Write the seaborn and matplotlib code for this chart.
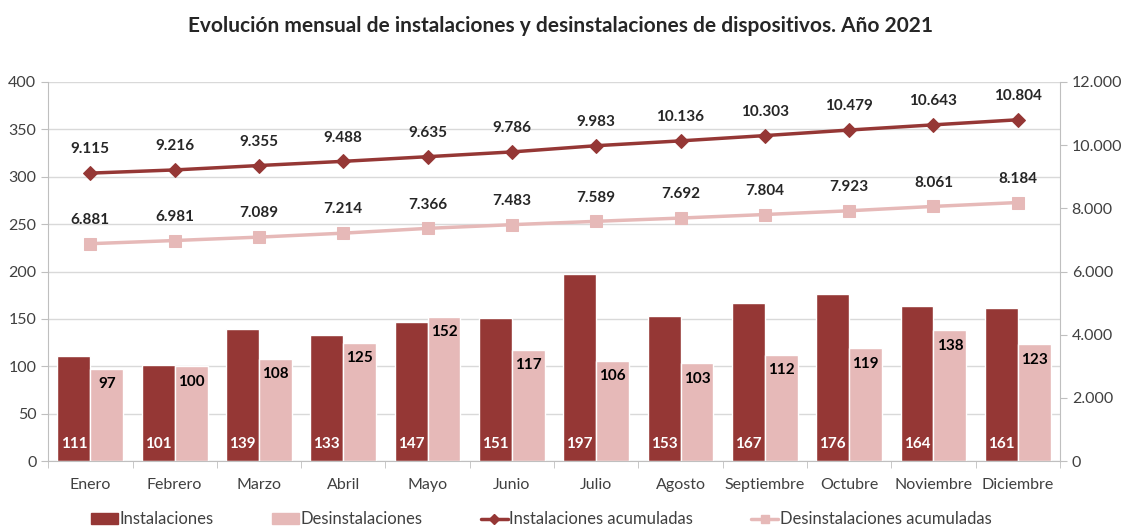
import pandas as pd
import matplotlib.pyplot as plt
import seaborn as sns
from matplotlib.ticker import FuncFormatter, MultipleLocator
from matplotlib.lines import Line2D
from matplotlib.patches import Patch

# Datos mensuales 2021
meses = ['Enero', 'Febrero', 'Marzo', 'Abril', 'Mayo', 'Junio', 'Julio',
         'Agosto', 'Septiembre', 'Octubre', 'Noviembre', 'Diciembre']
instalaciones = [111, 101, 139, 133, 147, 151, 197, 153, 167, 176, 164, 161]
desinstalaciones = [97, 100, 108, 125, 152, 117, 106, 103, 112, 119, 138, 123]
inst_acum = [9115, 9216, 9355, 9488, 9635, 9786, 9983, 10136, 10303, 10479, 10643, 10804]
desinst_acum = [6881, 6981, 7089, 7214, 7366, 7483, 7589, 7692, 7804, 7923, 8061, 8184]

rojo = '#953735'
rosa = '#E6B9B8'
gris = '#BFBFBF'

sns.set_style('white')
plt.rcParams['font.family'] = ['Lato', 'DejaVu Sans']

df = pd.DataFrame({'mes': meses * 2,
                   'valor': instalaciones + desinstalaciones,
                   'serie': ['Instalaciones'] * 12 + ['Desinstalaciones'] * 12})

fig = plt.figure(figsize=(11.21, 5.29), dpi=100)
ax = fig.add_axes([0.043, 0.1285, 0.9025, 0.7165])

sns.barplot(data=df, x='mes', y='valor', hue='serie', palette=[rojo, rosa],
            width=0.78, saturation=1, ax=ax, legend=False)

ax.set_ylim(0, 400)
ax.set_xlim(-0.5, 11.5)
ax.yaxis.set_major_locator(MultipleLocator(50))
ax.grid(axis='y', color='#D9D9D9', linewidth=1)
ax.set_axisbelow(True)
ax.set_xlabel('')
ax.set_ylabel('')
for s in ['top', 'right']:
    ax.spines[s].set_visible(False)
for s in ['left', 'bottom']:
    ax.spines[s].set_color(gris)
ax.tick_params(axis='y', labelsize=11.5, colors='#404040', length=5, color=gris, left=True)
ax.tick_params(axis='x', labelsize=11.5, colors='#404040', length=0, pad=12)
ax.set_xticks(range(12))
ax.set_xticklabels(meses)
ax.set_xticks([i - 0.5 for i in range(13)], minor=True)
ax.tick_params(axis='x', which='minor', length=5, color=gris, bottom=True)

# etiquetas de barras
bars_inst = ax.containers[0]
bars_des = ax.containers[1]
for b, v in zip(bars_inst, instalaciones):
    ax.annotate(str(v), (b.get_x() + b.get_width() / 2, 0), xytext=(0, 7),
                textcoords='offset points', ha='center', va='bottom',
                color='white', fontsize=11, fontweight='bold')
for b, v in zip(bars_des, desinstalaciones):
    ax.annotate(str(v), (b.get_x() + b.get_width() / 2, v), xytext=(0, -6),
                textcoords='offset points', ha='center', va='top',
                color='black', fontsize=11, fontweight='bold')

# eje secundario con acumulados
ax2 = ax.twinx()
pos = list(range(12))
sns.lineplot(x=pos, y=inst_acum, color=rojo, marker='D', markersize=7,
             markeredgecolor=rojo, linewidth=2.5, ax=ax2)
sns.lineplot(x=pos, y=desinst_acum, color=rosa, marker='s', markersize=9,
             markeredgecolor=rosa, linewidth=2.5, ax=ax2)
ax2.set_ylim(0, 12000)
ax2.yaxis.set_major_locator(MultipleLocator(2000))
ax2.yaxis.set_major_formatter(FuncFormatter(lambda v, p: f'{int(v):,}'.replace(',', '.')))
for s in ['top', 'left', 'bottom']:
    ax2.spines[s].set_visible(False)
ax2.spines['right'].set_color(gris)
ax2.tick_params(axis='y', labelsize=11.5, colors='#404040', length=5, color=gris, right=True)
ax2.set_xlim(-0.5, 11.5)

fmt = lambda v: f'{v:,}'.replace(',', '.')
for x, v in zip(pos, inst_acum):
    ax2.annotate(fmt(v), (x, v), xytext=(0, 12), textcoords='offset points',
                 ha='center', va='bottom', fontsize=11, fontweight='bold')
for x, v in zip(pos, desinst_acum):
    ax2.annotate(fmt(v), (x, v), xytext=(0, 12), textcoords='offset points',
                 ha='center', va='bottom', fontsize=11, fontweight='bold')

fig.suptitle('Evolución mensual de instalaciones y desinstalaciones de dispositivos. Año 2021',
             x=0.5, y=0.97, fontsize=15, fontweight='bold')

handles = [Patch(color=rojo), Patch(color=rosa),
           Line2D([], [], color=rojo, marker='D', markersize=5, linewidth=2.5),
           Line2D([], [], color=rosa, marker='s', markersize=6, linewidth=2.5)]
labels = ['Instalaciones', 'Desinstalaciones', 'Instalaciones acumuladas',
          'Desinstalaciones acumuladas']
fig.legend(handles, labels, loc='lower center', bbox_to_anchor=(0.483, -0.025),
           ncol=4, frameon=False, fontsize=12, handlelength=1.6, handleheight=0.6,
           handletextpad=0.1, columnspacing=3.5, labelcolor='#404040')

fig.savefig('out.png', dpi=100)
